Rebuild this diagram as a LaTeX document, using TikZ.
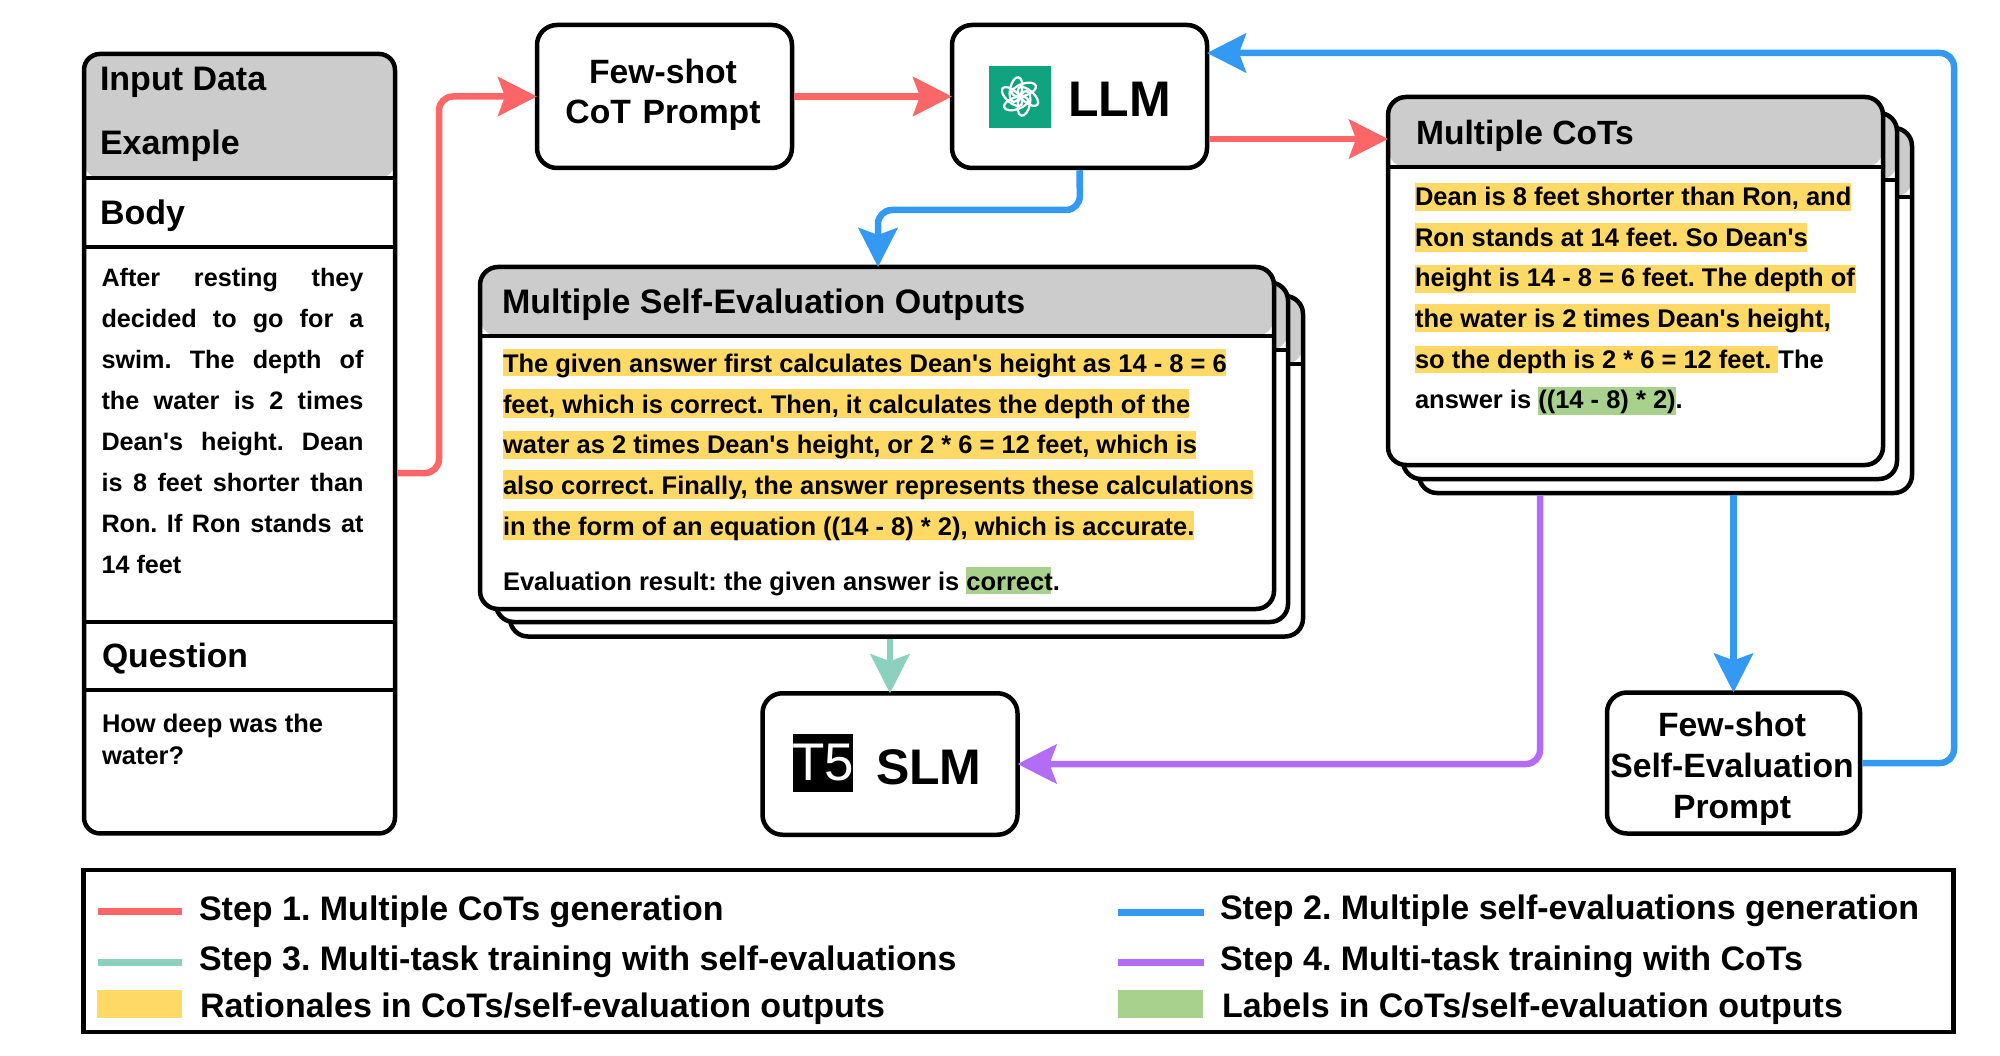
\documentclass[tikz,border=0pt]{standalone}
\usepackage{fontspec}
\setmainfont{Liberation Sans}[Ligatures=TeXOff]
\usetikzlibrary{arrows.meta,calc}
\definecolor{cred}{HTML}{FC6666}
\definecolor{cblue}{HTML}{3399F3}
\definecolor{cteal}{HTML}{8CD1C0}
\definecolor{cpurple}{HTML}{B26CF5}
\definecolor{cyel}{HTML}{FFD966}
\definecolor{cgrn}{HTML}{A9D18E}
\definecolor{chdr}{HTML}{CCCCCC}
\definecolor{cgpt}{HTML}{10A37F}
\newcommand{\fs}[2]{\fontsize{#1pt}{#2pt}\selectfont\bfseries\frenchspacing}
\newcommand{\natsp}{\spaceskip=0pt\xspaceskip=0pt }
\tikzset{
 x=1pt,y=-1pt,
 box/.style={draw=black,line width=4.5pt,fill=white,rounded corners=#1,inner sep=0pt,outer sep=0pt,rectangle},
 box/.default=20pt,
 panel/.style={box=18pt,path picture={
   \fill[chdr] (path picture bounding box.north west) rectangle ([yshift=-#1 pt]path picture bounding box.north east);
   \draw[black,line width=4.5pt] ([yshift=-#1 pt]path picture bounding box.north west) -- ([yshift=-#1 pt]path picture bounding box.north east);}},
 sep/.style={black,line width=4.5pt},
 flow/.style={line width=6.5pt,rounded corners=14pt,shorten <=2.25pt,-{Stealth[length=39pt,width=39pt,inset=7pt]}},
 txt/.style={inner sep=0pt,outer sep=0pt,anchor=base west},
 big/.style={txt,font=\fs{34}{40}},
 huge/.style={txt,font=\fs{50}{50}},
 small/.style={txt,font=\fs{25.5}{41}},
 para/.style={inner sep=0pt,outer sep=0pt,anchor=north west,align=left,text width=#1pt,font=\fs{25.5}{40.7}},
 hy/.style={fill=cyel},
 hg/.style={fill=cgrn},
 key/.style={line width=7pt},
}
\begin{document}
\begin{tikzpicture}
\useasboundingbox (0,0) rectangle (2000,1056);
% input panel
\node[box=16pt,minimum width=311pt,minimum height=779.5pt,path picture={\fill[chdr] (path picture bounding box.north west) rectangle ([yshift=-124pt]path picture bounding box.north east);}] (input) at (239.5,443.7) {};
\draw[sep] (input.west |- 0,178) -- (input.east |- 0,178);
\draw[sep] (input.west |- 0,247) -- (input.east |- 0,247);
\draw[sep] (input.west |- 0,622) -- (input.east |- 0,622);
\draw[sep] (input.west |- 0,690) -- (input.east |- 0,690);
\node[big] (t1) at (100,91) {Input Data};
\node[big] (t2) at (100,154.5) {Example};
\node[big] (t3) at (100,225) {Body};
\node[para=262,align=justify,font=\fs{25.2}{41}] (t4) at (101.5,268.5) {After resting they\linebreak decided to go for a\linebreak swim. The depth of\linebreak the water is 2 times\linebreak Dean's height. Dean\linebreak is 8 feet shorter than\linebreak Ron. If Ron stands at\linebreak 14 feet};
\node[big,font=\fs{33.7}{40}] (t5a) at (102,667) {Question};
\node[para=263,font=\fs{25.5}{32}] (t6) at (102,714.5) {\natsp How deep was the\\water?};
% prompts
\node[box,minimum width=255pt,minimum height=143pt] (few) at (664.5,96.5) {};
\node[para=260,anchor=north,align=center,font=\fs{33.7}{40}] (fewt) at (663,59.5) {\natsp Few-shot\hspace*{16pt}\\CoT Prompt};
\node[box,minimum width=255pt,minimum height=143pt] (llm) at (1079.5,96.5) {};
\fill[cgpt] (989,66) rectangle (1051,128);
\foreach \a in {0,60,...,300}
  \draw[white,line width=2.2pt,rotate around={\a:(1020,96.5)}] (1028,96.5) ellipse [x radius=12.5pt,y radius=6pt,rotate=-42];
\node[huge] (llmt) at (1068,117) {LLM};
% CoTs stack
\node[panel=69,minimum width=493pt,minimum height=365pt] (cotsC) at (1665.5,310.5) {};
\node[panel=67,minimum width=494pt,minimum height=366pt] (cotsB) at (1650,296) {};
\node[panel=70,minimum width=495pt,minimum height=368pt] (cots) at (1635.5,281) {};
\node[big,font=\fs{33.6}{40}] (cotst) at (1416,145) {Multiple CoTs};
\fill[hy] (1415,183) rectangle (1851,211);
\fill[hy] (1415,223) rectangle (1807,252);
\fill[hy] (1415,265) rectangle (1856,293);
\fill[hy] (1415,304) rectangle (1830,332);
\fill[hy] (1415,346) rectangle (1778,373);
\fill[hg] (1538,387) rectangle (1676,415);
\node[para=470] (cotsp) at (1415,187) {\natsp Dean is 8 feet shorter than Ron, and\\Ron stands at 14 feet. So Dean's\\height is 14 - 8 = 6 feet. The depth of\\the water is 2 times Dean's height,\\so the depth is 2 * 6 = 12 feet. The\\answer is ((14 - 8) * 2).};
% self-eval stack
\node[panel=68,minimum width=793pt,minimum height=340.5pt] (evalC) at (906.5,466.25) {};
\node[panel=67.5,minimum width=792pt,minimum height=339.5pt] (evalB) at (892,452.25) {};
\node[panel=69,minimum width=794pt,minimum height=342pt] (eval) at (877,438) {};
\node[big] (evalt) at (502,313.5) {Multiple Self-Evaluation Outputs};
\fill[hy] (503,348.7) rectangle (1226,376);
\fill[hy] (503,389) rectangle (1189,417.6);
\fill[hy] (503,430.6) rectangle (1196,458.6);
\fill[hy] (503,470.4) rectangle (1253,498.8);
\fill[hy] (503,511.4) rectangle (1194,539.7);
\fill[hg] (966,567) rectangle (1051,594.4);
\node[para=760] (evalp) at (503,354) {\natsp The given answer first calculates Dean's height as 14 - 8 = 6\\feet, which is correct. Then, it calculates the depth of the\\water as 2 times Dean's height, or 2 * 6 = 12 feet, which is\\also correct. Finally, the answer represents these calculations\\in the form of an equation ((14 - 8) * 2), which is accurate.};
\node[small] (evalr) at (503,590) {Evaluation result: the given answer is correct.};
% SLM
\node[box,minimum width=255pt,minimum height=141.5pt] (slm) at (890,764) {};
\node[fill=black,inner sep=0pt,minimum width=60pt,minimum height=57.5pt,text=white,font=\fontsize{53}{53}\selectfont] (t5) at (823,762.75) {\makebox[60pt][c]{T5}};
\node[huge] (slmt) at (876,784) {SLM};
% few-shot self eval
\node[box,minimum width=253pt,minimum height=141pt] (fse) at (1733.5,763) {};
\node[para=250,anchor=north,align=center,font=\fs{33.7}{41}] (fset) at (1732,712.5) {Few-shot\hspace*{18pt}\\Self-Evaluation\\Prompt};
% connectors
\coordinate (inOut) at (395,473);
\draw[flow,cred] (inOut) -- (439,473) -- (439,96.5) -- (few.west);
\draw[flow,cred,rounded corners=0pt] (few.east) -- (llm.west);
\draw[flow,cred,rounded corners=0pt] (llm.east |- 0,139) -- (cots.west |- 0,139);
\draw[flow,cblue] (llm.south) -- (1080,210) -- (878,210) -- (eval.north -| 878,0);
\draw[flow,cblue] (fse.east) -- (1954,763) -- (1954,53) -- (llm.east |- 0,53);
\draw[flow,cblue,rounded corners=0pt] (cotsC.south -| fse.north) -- (fse.north);
\draw[flow,cpurple] (cotsC.south -| 1540,0) -- (1540,764) -- (slm.east);
\draw[flow,cteal,rounded corners=0pt] (evalC.south -| slm.north) -- (slm.north);
% legend
\node[draw=black,line width=4.5pt,inner sep=0pt,minimum width=1870pt,minimum height=162pt] (legend) at (1018.5,951) {};
\coordinate (k1a) at (98,911); \coordinate (k1b) at (182,911);
\coordinate (k2a) at (1118,912); \coordinate (k2b) at (1204,912);
\coordinate (k3a) at (98,962); \coordinate (k3b) at (182,962);
\coordinate (k4a) at (1118,962); \coordinate (k4b) at (1204,962);
\draw[key,cred] (k1a) -- (k1b);
\draw[key,cblue] (k2a) -- (k2b);
\draw[key,cteal] (k3a) -- (k3b);
\draw[key,cpurple] (k4a) -- (k4b);
\fill[cyel] (97,990) rectangle (182,1018);
\fill[cgrn] (1118,990) rectangle (1203,1018);
\node[big] (l1) at (199,920.5) {Step 1. Multiple CoTs generation};
\node[big] (l2) at (1220,919.5) {Step 2. Multiple self-evaluations generation};
\node[big] (l3) at (199,970.5) {Step 3. Multi-task training with self-evaluations};
\node[big] (l4) at (1220,970.5) {Step 4. Multi-task training with CoTs};
\node[big] (l5) at (200,1017) {Rationales in CoTs/self-evaluation outputs};
\node[big] (l6) at (1222,1017) {Labels in CoTs/self-evaluation outputs};
\end{tikzpicture}
\end{document}
